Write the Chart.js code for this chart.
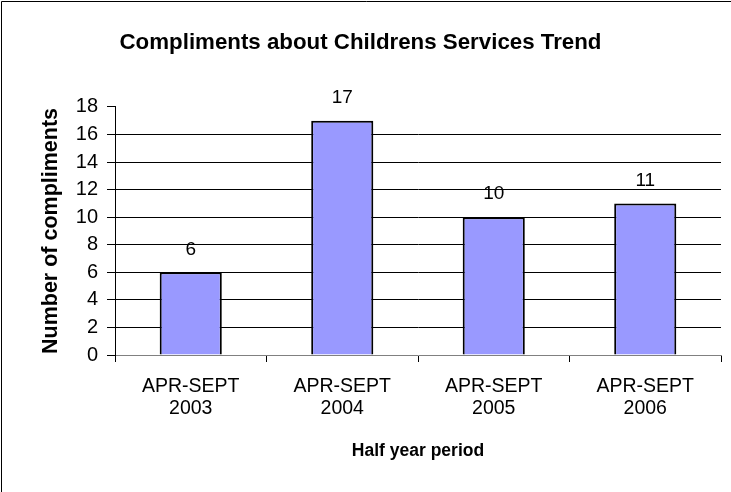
<!DOCTYPE html>
<html>
<head>
<meta charset="utf-8">
<script src="https://cdn.jsdelivr.net/npm/chart.js@4"></script>
<style>
  html, body { margin: 0; padding: 0; background: #fff; }
  #wrap { position: relative; width: 731px; height: 492px; }
</style>
</head>
<body>
<div id="wrap"><canvas id="c" width="731" height="492"></canvas></div>
<script>
// Half-year periods and the number of compliments received in each
const periods = [
  ['APR-SEPT', '2003'],
  ['APR-SEPT', '2004'],
  ['APR-SEPT', '2005'],
  ['APR-SEPT', '2006']
];
const compliments = [6, 17, 10, 11];
const yTicks = [0, 2, 4, 6, 8, 10, 12, 14, 16, 18];

const FONT = '"Liberation Sans", Arial, Helvetica, sans-serif';

// Value labels printed above each bar
const valueLabels = {
  id: 'valueLabels',
  afterDatasetsDraw(chart) {
    const { ctx } = chart;
    const meta = chart.getDatasetMeta(0);
    const ys = chart.scales.y;
    ctx.save();
    ctx.font = '19px ' + FONT;
    ctx.fillStyle = '#000';
    ctx.textAlign = 'center';
    ctx.textBaseline = 'middle';
    meta.data.forEach((bar, i) => {
      const v = compliments[i];
      ctx.fillText(String(v), bar.x, ys.getPixelForValue(v) - 23);
    });
    ctx.restore();
  }
};

// Thin frame around the chart object
const frame = {
  id: 'frame',
  afterDraw(chart) {
    const { ctx } = chart;
    ctx.save();
    ctx.strokeStyle = '#000';
    ctx.lineWidth = 1;
    ctx.beginPath();
    ctx.moveTo(1.5, chart.height);
    ctx.lineTo(1.5, 1.5);
    ctx.lineTo(chart.width, 1.5);
    ctx.stroke();
    ctx.restore();
  }
};

new Chart(document.getElementById('c'), {
  type: 'bar',
  data: {
    labels: periods,
    datasets: [{
      data: compliments,
      backgroundColor: '#9999FF',
      borderColor: '#000',
      borderWidth: 2,
      barPercentage: 0.41,
      categoryPercentage: 1
    }]
  },
  options: {
    responsive: false,
    animation: false,
    devicePixelRatio: 1,
    layout: { padding: { left: 0, right: 10, top: 0, bottom: 0 } },
    plugins: {
      legend: { display: false },
      tooltip: { enabled: false },
      title: {
        display: true,
        text: 'Compliments about Childrens Services Trend',
        color: '#000',
        font: { family: FONT, size: 22.3, weight: 'bold', lineHeight: 1.2 },
        padding: { top: 29, bottom: 51.2 }
      }
    },
    scales: {
      x: {
        grid: {
          offset: true,
          drawOnChartArea: false,
          drawTicks: true,
          tickLength: 7,
          color: '#000'
        },
        border: { display: true, color: '#808080', width: 1 },
        ticks: {
          color: '#000',
          font: { family: FONT, size: 19.5, lineHeight: 1.13 },
          padding: 14,
          maxRotation: 0,
          autoSkip: false
        },
        title: {
          display: true,
          text: 'Half year period',
          color: '#000',
          font: { family: FONT, size: 17.5, weight: 'bold', lineHeight: 1.2 },
          padding: { top: 0, bottom: 30.5 }
        },
        afterFit(scale) { scale.height = 137; }
      },
      y: {
        min: 0,
        max: 18,
        afterBuildTicks(scale) { scale.ticks = yTicks.map(v => ({ value: v })); },
        grid: {
          color: ctx => (ctx.tick && (ctx.tick.value === 0 || ctx.tick.value === 18)) ? 'rgba(0,0,0,0)' : '#000',
          tickColor: '#000',
          tickLength: 8,
          drawTicks: true
        },
        border: { display: true, color: '#000', width: 1 },
        ticks: {
          color: '#000',
          font: { family: FONT, size: 20 },
          padding: 9
        },
        title: {
          display: true,
          text: 'Number of compliments',
          color: '#000',
          font: { family: FONT, size: 21.5, weight: 'bold', lineHeight: 1.2 },
          padding: { top: 38, bottom: 0 }
        },
        afterFit(scale) { scale.width = 115; }
      }
    }
  },
  plugins: [valueLabels, frame]
});
</script>
</body>
</html>
